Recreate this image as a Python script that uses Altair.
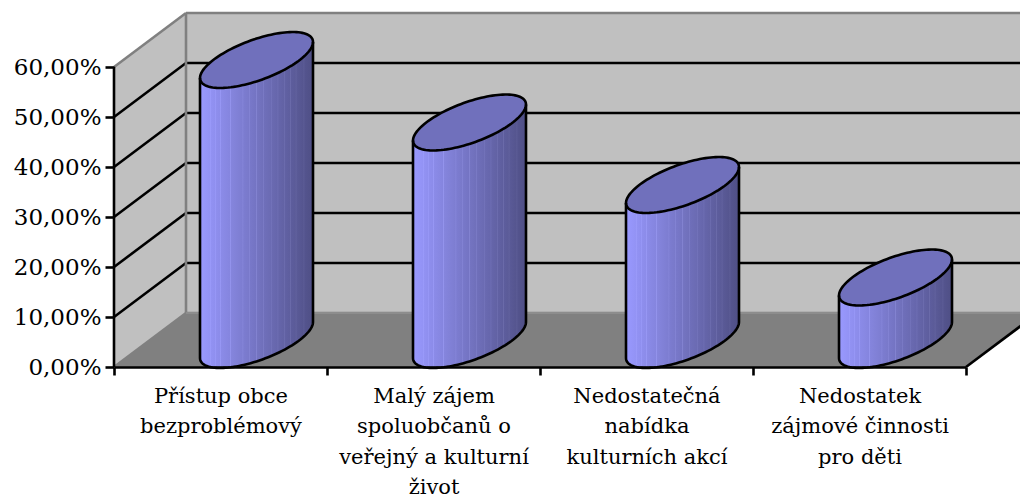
import math
import altair as alt
import pandas as pd

# values
categories = [
    ["Přístup obce", "bezproblémový"],
    ["Malý zájem", "spoluobčanů o", "veřejný a kulturní", "život"],
    ["Nedostatečná", "nabídka", "kulturních akcí"],
    ["Nedostatek", "zájmové činnosti", "pro děti"],
]
values = [56.0, 43.5, 31.0, 12.5]
ticks = [0, 10, 20, 30, 40, 50, 60]
stripes = [0.09, 0.14, 0.18, 0.27, 0.38, 0.44, 0.50, 0.56, 0.63, 0.69, 0.75, 0.80, 0.85, 0.92]

FONT = "DejaVu Serif"
# oblique projection of the 3-D box, in data units (category, percent)
DX, DY = 72 / 213, 10.8
RA, SK, RB = 56.5 / 213, 3.6, 4.28
XDOM, YDOM = [0, 906 / 213], [0, 71.2]
names = ["\n".join(c) for c in categories]

xs = alt.Scale(domain=XDOM, nice=False, zero=False)
ys = alt.Scale(domain=YDOM, nice=False, zero=False)
X = lambda f="x": alt.X(f"{f}:Q", scale=xs, axis=None)
Y = lambda f="y": alt.Y(f"{f}:Q", scale=ys, axis=None)


def segments(pairs):
    rows = []
    for g, (a, b) in enumerate(pairs):
        rows += [{"g": g, "o": 0, "x": a[0], "y": a[1]}, {"g": g, "o": 1, "x": b[0], "y": b[1]}]
    return pd.DataFrame(rows)


def lines(pairs, color, width):
    return alt.Chart(segments(pairs)).mark_line(color=color, strokeWidth=width, interpolate="linear").encode(
        x=X(), y=Y(), detail="g:N", order="o:Q"
    )


END = 4
wall_back = alt.Chart(pd.DataFrame([{"x": DX, "x2": END + DX, "y": DY, "y2": 60 + DY}])).mark_rect(color="#C0C0C0").encode(
    x=X(), x2="x2:Q", y=Y(), y2="y2:Q"
)
wall_left = alt.Chart(pd.DataFrame([
    {"x": 0, "y": 0, "y2": 60}, {"x": DX, "y": DY, "y2": 60 + DY}
])).mark_area(color="#C0C0C0").encode(x=X(), y=Y(), y2="y2:Q")
floor = alt.Chart(pd.DataFrame([
    {"x": 0, "y": 0, "y2": 0},
    {"x": DX, "y": 0, "y2": DY},
    {"x": END, "y": 0, "y2": DY},
    {"x": END + DX, "y": DY, "y2": DY},
])).mark_area(color="#808080").encode(x=X(), y=Y(), y2="y2:Q")

grid_pairs = []
for t in ticks[1:-1]:
    grid_pairs.append(((0, t), (DX, t + DY)))
    grid_pairs.append(((DX, t + DY), (END + DX, t + DY)))
grid_lines = lines(grid_pairs, "#000000", 2.6)

gray_lines = lines([
    ((0, 60), (DX, 60 + DY)),
    ((DX, 60 + DY), (END + DX, 60 + DY)),
    ((DX, DY), (DX, 60 + DY)),
    ((0, 0), (DX, DY)),
    ((DX, DY), (END + DX, DY)),
], "#808080", 2.6)
floor_edge = lines([((DX, DY), (END + DX, DY))], "#9A9A9A", 1.2)

frame_lines = lines([((0, 0), (0, 60)), ((END, 0), (END + DX, DY))], "#000000", 2.6)

# cylinders
STEPS = 60
bodies, tops, outlines = [], [], []
for i, v in enumerate(values):
    cx = i + 0.5 + DX / 2
    for k in range(STEPS + 1):
        t = math.pi * k / STEPS
        x = cx + RA * math.cos(t)
        s = SK * math.cos(t)
        b = RB * math.sin(t)
        bodies.append({"g": i, "x": x, "y": DY / 2 + s - b, "y2": v + DY / 2 + s - b})
        tops.append({"g": i, "x": x, "y": v + DY / 2 + s - b, "y2": v + DY / 2 + s + b})
    ring = []
    for k in range(2 * STEPS + 1):
        t = math.pi * k / STEPS
        ring.append((cx + RA * math.cos(t), v + DY / 2 + SK * math.cos(t) + RB * math.sin(t)))
    for o, (x, y) in enumerate(ring):
        outlines.append({"g": f"t{i}", "o": o, "x": x, "y": y})
    side = [(cx - RA, v + DY / 2 - SK)]
    for k in range(STEPS + 1):
        t = math.pi + math.pi * k / STEPS
        side.append((cx + RA * math.cos(t), DY / 2 + SK * math.cos(t) + RB * math.sin(t)))
    side.append((cx + RA, v + DY / 2 + SK))
    for o, (x, y) in enumerate(side):
        outlines.append({"g": f"s{i}", "o": o, "x": x, "y": y})


def shade(f, boost=0):
    c0, c1 = (0x99, 0x99, 0xFF), (0x4F, 0x4F, 0x85)
    rgb = [min(255, round(a + (b - a) * f + boost)) for a, b in zip(c0, c1)]
    return "#%02X%02X%02X" % tuple(rgb)


grad_stops = [alt.GradientStop(color=shade(0), offset=0)]
for f in stripes:
    grad_stops += [
        alt.GradientStop(color=shade(f - 0.006), offset=f - 0.006),
        alt.GradientStop(color=shade(f, 14), offset=f),
        alt.GradientStop(color=shade(f + 0.006), offset=f + 0.006),
    ]
grad_stops.append(alt.GradientStop(color=shade(1), offset=1))
gradient = alt.Gradient(gradient="linear", x1=0, x2=1, y1=0, y2=0, stops=grad_stops)

body = alt.Chart(pd.DataFrame(bodies)).mark_area(color=gradient).encode(x=X(), y=Y(), y2="y2:Q", detail="g:N")
top = alt.Chart(pd.DataFrame(tops)).mark_area(color="#7070BC").encode(x=X(), y=Y(), y2="y2:Q", detail="g:N")
outline = alt.Chart(pd.DataFrame(outlines)).mark_line(color="#000000", strokeWidth=2.6).encode(
    x=X(), y=Y(), detail="g:N", order="o:Q"
)

axes = alt.Chart(pd.DataFrame({"cat": names, "v": values})).mark_point(opacity=0).encode(
    x=alt.X(
        "cat:N", sort=None, title=None,
        scale=alt.Scale(domain=names, range=[0, 852], paddingInner=0, paddingOuter=0),
        axis=alt.Axis(
            tickBand="extent", labelAngle=0, labelAlign="center", labelBaseline="top",
            labelExpr="split(datum.label,'\\n')", labelFont=FONT, labelFontSize=21, labelColor="#000000",
            labelLineHeight=30.5, labelPadding=10, labelLimit=0, labelOverlap=False,
            tickSize=8, tickWidth=2.6, tickColor="#000000", domainColor="#000000", domainWidth=2.6,
            grid=False, zindex=1,
        ),
    ),
    y=alt.Y(
        "v:Q", title=None, scale=ys,
        axis=alt.Axis(
            values=ticks, labelExpr="replace(format(datum.value,'.2f'),'.',',')+'%'",
            labelFont=FONT, labelFontSize=23, labelColor="#000000", labelPadding=4, labelLimit=0,
            labelOverlap=False, tickSize=9, tickWidth=2.6, tickColor="#000000", domain=False, grid=False, zindex=1,
        ),
    ),
)

chart = alt.layer(
    wall_back, wall_left, floor, grid_lines, gray_lines, floor_edge, frame_lines, body, top, outline, axes
).resolve_scale(x="independent", y="independent").properties(
    width=906, height=356,
    padding={"left": 106, "top": 3, "right": 0, "bottom": 132},
    autosize="none", background="#FFFFFF",
).configure_view(stroke=None)

chart.save("out.html", embed_options={"renderer": "svg", "actions": False})
